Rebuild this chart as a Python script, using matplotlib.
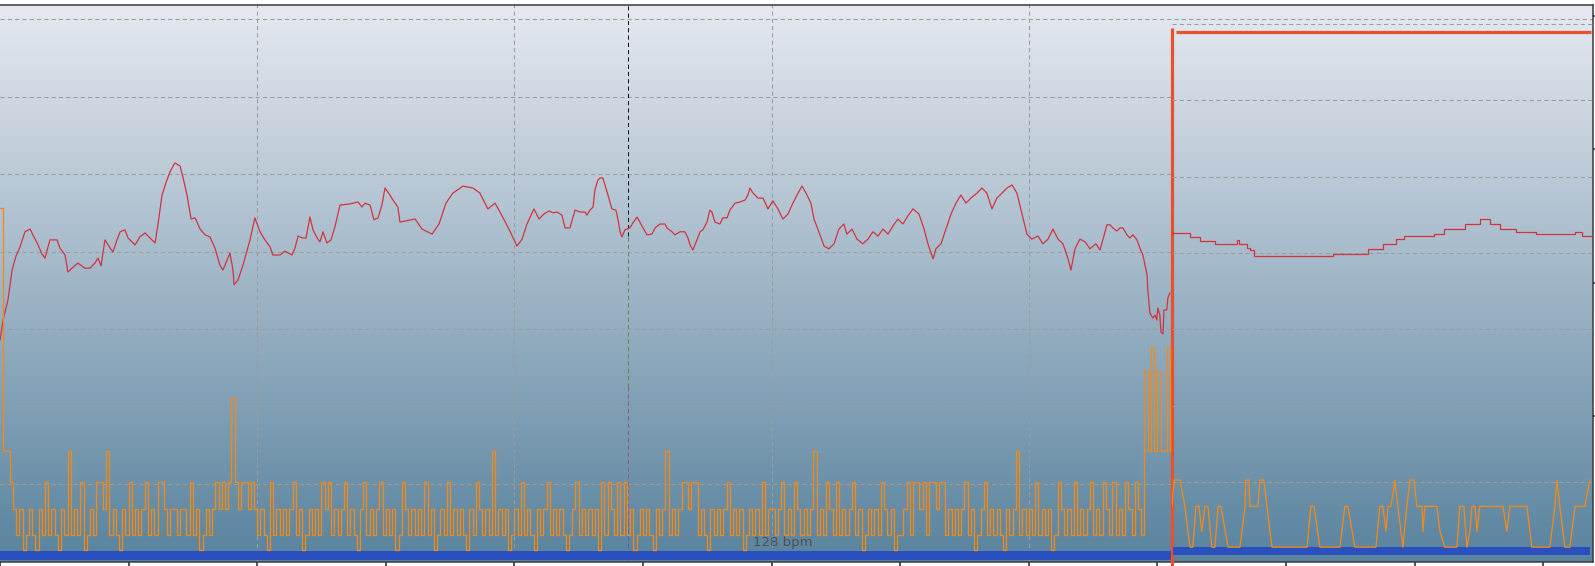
import matplotlib.pyplot as plt
import numpy as np

# heart rate before the split (minutes, bpm)
hr_t = [0.00, 0.12, 0.31, 0.47, 0.62, 0.78, 0.97, 1.17, 1.28, 1.48, 1.63, 1.75, 1.94, 2.22, 2.33, 2.53,
        2.64, 2.80, 3.03, 3.30, 3.50, 3.69, 3.81, 3.93, 4.08, 4.28, 4.39, 4.55, 4.67, 4.86, 4.98, 5.25,
        5.44, 5.64, 5.83, 6.03, 6.14, 6.30, 6.45, 6.61, 6.80, 7.00, 7.12, 7.27, 7.43, 7.58, 7.66, 7.78,
        7.97, 8.16, 8.36, 8.55, 8.67, 8.83, 8.94, 9.06, 9.10, 9.25, 9.45, 9.72, 9.91, 10.11, 10.30, 10.50,
        10.61, 10.89, 11.08, 11.35, 11.47, 11.59, 11.74, 11.90, 12.05, 12.17, 12.33, 12.44, 12.56, 12.71,
        12.87, 13.02, 13.22, 13.61, 13.92, 14.07, 14.19, 14.39, 14.54, 14.70, 14.85, 14.97, 15.16, 15.28,
        15.47, 15.55, 16.14, 16.41, 16.80, 17.07, 17.34, 17.61, 18.00, 18.39, 18.66, 18.97, 19.25, 19.48,
        19.79, 20.10, 20.30, 20.49, 20.76, 20.96, 21.15, 21.35, 21.50, 21.66, 21.85, 21.97, 22.16, 22.28,
        22.36, 22.55, 22.75, 22.82, 22.94, 23.06, 23.13, 23.25, 23.33, 23.44, 23.52, 23.64, 23.79, 23.95,
        24.03, 24.11, 24.18, 24.30, 24.49, 24.61, 24.77, 24.88, 25.00, 25.16, 25.35, 25.47, 25.66, 25.86,
        25.93, 26.13, 26.24, 26.44, 26.63, 26.75, 26.83, 26.94, 27.10, 27.22, 27.33, 27.49, 27.60, 27.68,
        27.80, 27.99, 28.11, 28.27, 28.38, 28.58, 28.77, 28.97, 29.08, 29.16, 29.28, 29.47, 29.67, 29.86,
        30.05, 30.25, 30.44, 30.64, 30.83, 31.03, 31.18, 31.34, 31.53, 31.65, 31.84, 32.04, 32.23, 32.43,
        32.62, 32.81, 32.93, 33.13, 33.32, 33.55, 33.75, 33.94, 34.14, 34.33, 34.53, 34.72, 34.91, 35.11,
        35.30, 35.50, 35.73, 35.93, 36.08, 36.28, 36.39, 36.59, 36.78, 36.98, 37.17, 37.36, 37.56, 37.75,
        37.99, 38.18, 38.37, 38.57, 38.76, 38.96, 39.15, 39.35, 39.54, 39.74, 39.93, 40.12, 40.36, 40.55,
        40.75, 40.94, 41.14, 41.33, 41.53, 41.64, 41.80, 41.99, 42.19, 42.38, 42.61, 42.77, 42.88, 43.04,
        43.16, 43.27, 43.43, 43.55, 43.66, 43.82, 43.93, 44.05, 44.21, 44.32, 44.44, 44.60, 44.63, 44.71,
        44.83, 44.91, 44.98, 45.02, 45.10, 45.14, 45.22, 45.26, 45.37, 45.41, 45.49]
hr_bpm = [97.1, 102.3, 107.5, 115.2, 118.8, 121.2, 125.1, 125.8, 124.3, 121.7, 119.4, 118.3, 123.0, 123.0,
          120.9, 119.1, 114.7, 115.7, 117.0, 115.7, 115.7, 117.0, 118.3, 116.3, 123.0, 120.9, 119.9, 123.0,
          125.1, 125.6, 123.5, 121.7, 123.8, 124.8, 123.5, 122.2, 126.9, 134.6, 137.7, 140.6, 142.9, 142.1,
          139.0, 134.6, 128.4, 128.7, 127.6, 125.8, 124.3, 123.8, 120.9, 116.5, 115.2, 117.8, 119.6, 115.2,
          111.4, 112.6, 116.5, 123.0, 128.7, 125.1, 123.0, 121.2, 119.1, 119.1, 120.1, 119.1, 120.9, 124.0,
          123.5, 123.5, 128.9, 125.6, 123.5, 122.5, 125.1, 122.2, 123.0, 126.3, 132.0, 132.3, 132.8, 131.5,
          132.5, 132.0, 128.2, 128.7, 132.0, 136.4, 134.6, 133.3, 131.5, 127.6, 128.4, 125.8, 124.5, 127.1,
          132.5, 135.1, 136.9, 136.4, 135.1, 131.0, 132.5, 129.7, 125.8, 121.4, 123.2, 127.1, 131.0, 128.4,
          129.7, 130.5, 130.0, 130.2, 129.4, 126.1, 126.1, 128.9, 130.7, 130.2, 130.2, 129.4, 130.7, 131.5,
          135.9, 138.5, 139.0, 139.0, 137.2, 134.6, 131.0, 130.7, 128.2, 125.1, 123.8, 125.6, 126.1, 127.4,
          128.9, 127.6, 126.1, 124.3, 124.5, 126.1, 127.1, 127.1, 126.1, 125.1, 124.3, 125.1, 125.1, 123.5,
          121.7, 120.4, 123.0, 125.1, 125.6, 127.6, 130.7, 130.2, 127.6, 127.1, 128.7, 128.7, 130.7, 132.5,
          132.8, 133.3, 134.6, 136.4, 135.1, 133.8, 133.8, 131.0, 133.1, 131.0, 128.4, 129.7, 132.5, 135.1,
          136.9, 135.1, 132.5, 128.4, 125.1, 121.4, 120.7, 122.0, 125.8, 127.1, 124.5, 125.8, 123.2, 122.0,
          123.2, 125.1, 124.0, 125.8, 124.5, 126.6, 128.4, 127.1, 129.2, 131.0, 129.7, 125.8, 122.0, 118.1,
          120.7, 122.0, 125.8, 129.7, 132.5, 134.6, 132.5, 133.8, 135.1, 136.4, 135.1, 131.0, 133.8, 135.1,
          136.4, 137.2, 135.1, 129.7, 124.5, 123.2, 124.0, 122.0, 123.2, 125.8, 123.2, 122.0, 118.1, 115.2,
          120.7, 123.2, 122.5, 120.7, 122.0, 120.4, 123.0, 126.9, 126.9, 126.1, 125.3, 126.1, 126.1, 124.3,
          123.5, 124.3, 123.0, 120.9, 119.1, 113.9, 110.1, 104.1, 102.8, 103.6, 102.3, 105.4, 103.6, 99.2,
          98.7, 104.9, 104.9, 108.0, 109.3]

# heart rate after the split (step values)
hr2_t = [45.57, 46.27, 46.66, 47.24, 48.09, 48.17, 48.48, 48.60, 48.75, 51.83, 53.19, 53.77, 54.28,
         54.59, 55.75, 56.14, 56.96, 57.54, 57.93, 58.32, 58.94, 59.72, 61.24, 61.51, 61.94]
hr2_bpm = [125.2, 124.2, 123.1, 122.3, 123.4, 122.3, 121.3, 120.8, 119.2, 119.7, 121.0, 122.3, 123.6,
           124.4, 125.0, 126.3, 127.6, 128.9, 127.6, 126.3, 125.5, 125.0, 125.5, 124.4, 124.4]

# second series, one code every 0.125 min before the split
var_levels = [0, 0.55, 1.55, 2.55, 3.7, 5.7, 6.7, 7.6, 12.8]
var_codes = [8, 4, 4, 3, 2, 1, 2, 0, 1, 2, 1, 0, 2, 1, 3, 1, 2, 1, 0, 2, 1, 4, 1, 2, 1, 3, 0, 1, 2, 1, 3, 3, 2, 4, 1, 2, 1, 0, 2, 1,
             3, 1, 2, 1, 2, 3, 1, 2, 1, 3, 3, 2, 1, 2, 2, 1, 2, 2, 1, 3, 1, 2, 0, 1, 2, 1, 2, 3, 2, 3, 2, 3, 5, 3, 2, 3, 3, 2, 3, 2,
             1, 2, 1, 0, 3, 1, 2, 1, 2, 1, 2, 3, 1, 2, 0, 1, 2, 1, 2, 1, 3, 2, 3, 1, 2, 1, 2, 3, 1, 2, 1, 0, 2, 3, 1, 2, 1, 2, 3, 1,
             2, 1, 2, 0, 1, 3, 2, 1, 2, 1, 2, 1, 3, 1, 2, 0, 1, 2, 1, 3, 1, 2, 1, 2, 1, 0, 2, 1, 3, 2, 1, 2, 1, 4, 1, 2, 1, 2, 0, 1,
             2, 1, 3, 1, 2, 1, 0, 2, 1, 2, 3, 1, 2, 1, 2, 1, 0, 1, 2, 3, 1, 2, 1, 2, 1, 2, 0, 3, 1, 3, 2, 1, 3, 1, 3, 1, 2, 0, 1, 2,
             1, 2, 1, 0, 2, 1, 2, 4, 1, 2, 1, 2, 3, 3, 2, 3, 3, 1, 2, 1, 0, 2, 1, 2, 1, 2, 3, 1, 2, 1, 2, 0, 1, 2, 1, 2, 1, 3, 1, 2,
             2, 1, 2, 3, 1, 2, 1, 3, 2, 1, 2, 1, 2, 4, 1, 2, 1, 3, 2, 1, 3, 1, 2, 1, 2, 3, 1, 2, 0, 1, 2, 1, 2, 1, 3, 2, 1, 2, 0, 1,
             1, 2, 3, 1, 3, 3, 2, 3, 1, 3, 3, 2, 3, 3, 1, 2, 1, 2, 1, 2, 3, 1, 2, 0, 1, 2, 3, 1, 2, 1, 2, 1, 0, 2, 1, 2, 4, 1, 2, 1,
             2, 1, 3, 1, 2, 1, 2, 0, 1, 3, 2, 1, 2, 1, 3, 1, 2, 1, 2, 3, 1, 2, 1, 3, 2, 1, 3, 1, 2, 1, 3, 2, 1, 3, 2, 1, 6, 4, 7, 4,
             6, 4, 4, 7, 4]
var_dt = 0.125

# second series after the split
var2_t = [45.57, 45.65, 45.88, 46.07, 46.27, 46.38, 46.50, 46.62, 46.73, 46.85, 46.97, 47.12, 47.24, 47.36,
          47.47, 47.75, 48.21, 48.41, 48.44, 48.56, 48.60, 48.91, 48.99, 49.14, 49.38, 49.46, 50.82, 50.97,
          51.09, 51.32, 52.10, 52.29, 52.41, 52.68, 53.50, 53.65, 53.77, 53.89, 53.97, 54.08, 54.24, 54.35,
          54.55, 54.70, 54.82, 54.98, 55.09, 55.29, 55.33, 55.40, 55.87, 55.99, 56.18, 56.65, 56.76, 56.92,
          57.04, 57.15, 57.23, 57.35, 57.43, 57.54, 57.74, 58.44, 58.59, 58.71, 59.37, 59.56, 60.26, 60.46,
          60.54, 60.65, 60.85, 61.04, 61.24, 61.62, 61.82]
var2_val = [1.55, 2.55, 2.55, 1.55, 0, 0, 1.55, 1.55, 0.6, 1.55, 1.55, 0, 0, 1.55, 1.55, 0, 0, 1.55, 2.55, 2.55,
            1.55, 1.55, 2.55, 2.55, 0.6, 0, 0, 1.55, 1.55, 0, 0, 1.55, 1.55, 0, 0, 1.55, 1.55, 0.6, 1.55, 1.55,
            2.55, 1.55, 0, 1.55, 2.55, 2.55, 1.55, 1.55, 0.6, 1.55, 1.55, 0.6, 0, 0, 1.55, 1.55, 0, 0.6, 1.55, 1.55,
            0.6, 1.55, 1.55, 1.55, 0.6, 1.55, 1.55, 0, 0, 1.55, 2.55, 1.55, 0, 0, 1.55, 1.55, 2.55]
var_ticks = [5, 10, 15, 20]

split_t = 45.57
end_t = 61.94
max_hr = 176.6
avg_label = "128 bpm"
grid_bpm = [60, 80, 100, 120, 140, 160]
band = (40.3, 42.6)

W, H = 1595, 566
fig = plt.figure(figsize=(W / 100, H / 100), dpi=100)
fig.patch.set_facecolor("white")

bpm_lim = (39.77, 183.7)
var_lim = (-0.45, 20.41)

ax = fig.add_axes([0, 1 - 562 / H, 1593 / W, 557 / H])
ax.set_xlim(0, end_t)
ax.set_ylim(*bpm_lim)

# background gradient
grad = np.linspace(0, 1, 256)[:, None]
top = np.array([230, 233, 240]) / 255
bot = np.array([89, 131, 158]) / 255
img = top[None, None, :] * (1 - grad[..., None]) + bot[None, None, :] * grad[..., None]
ax.imshow(img, extent=(0, 1, 0, 1), transform=ax.transAxes, aspect="auto", zorder=0)

dash = (0, (4, 3))
gcol = "#9c9c9c"
ax.hlines(grid_bpm, 0, split_t, colors=gcol, linestyles=dash, lw=0.75, zorder=1)
ax.hlines([180], 0, end_t, colors=gcol, linestyles=dash, lw=0.75, zorder=1)
ax.vlines([10, 20, 30, 40], bpm_lim[0], bpm_lim[1], colors=gcol, linestyles=dash, lw=0.75, zorder=1)

# cursor
ax.vlines(24.40, 124, bpm_lim[1], colors="#1a1a1a", linestyles=dash, lw=0.75, zorder=2)
ax.vlines(24.40, 85, 124, colors="#4f8f4f", linestyles=dash, lw=0.75, zorder=2)
ax.vlines(24.40, 50, 85, colors="#9a4f8a", linestyles=dash, lw=0.75, zorder=2)
ax.vlines(24.40, bpm_lim[0], 50, colors="#4a62c8", linestyles=dash, lw=0.75, zorder=2)

ax.fill_between([0, split_t], band[0], band[1], color="#2a4fbf", lw=0, zorder=2)
ax.plot(hr_t, hr_bpm, color="#d2343f", lw=0.9, zorder=5)
ax.text(30.44, 44.9, avg_label, ha="center", va="center", fontsize=9.5, color="#505050", zorder=6)

ax.set_xticks(np.arange(0, end_t, 5))
ax.set_xticklabels([])
ax.set_yticks([])
ax.tick_params(axis="x", direction="out", length=3, width=1.2, color="#333333")
ax.spines["left"].set_visible(False)
for s in ["top", "right", "bottom"]:
    ax.spines[s].set_color("#3a3a3a")
    ax.spines[s].set_linewidth(1.1)

axv = ax.twinx()
axv.set_ylim(*var_lim)
for s in axv.spines.values():
    s.set_visible(False)
axv.set_yticks(var_ticks)
axv.set_yticklabels([])
axv.tick_params(axis="y", direction="out", length=3, width=1.1, color="#333333")
var_t = np.arange(len(var_codes)) * var_dt
var_val = [var_levels[c] for c in var_codes]
axv.plot(var_t, var_val, drawstyle="steps-post", color="#f08a1a", lw=0.95, zorder=4)

# right part
axr = fig.add_axes([1172 / W, 1 - 559 / H, (1593 - 1172) / W, 549 / H])
axr.patch.set_alpha(0)
axr.set_xlim(split_t, end_t)
axr.set_ylim(*bpm_lim)
axr.axis("off")
axr.hlines(grid_bpm + [180], split_t, end_t, colors=gcol, linestyles=dash, lw=0.75, zorder=1)
axr.fill_between([split_t + 0.05, end_t - 0.1], band[0] + 0.5, band[1] + 0.4, color="#2a4fbf", lw=0, zorder=2)
axr.plot(hr2_t, hr2_bpm, drawstyle="steps-post", color="#d2343f", lw=0.9, zorder=5)
axrv = axr.twinx()
axrv.set_ylim(*var_lim)
axrv.axis("off")
axrv.plot(var2_t, var2_val, color="#f08a1a", lw=0.95, zorder=4)

# split and max markers
ax.vlines(split_t, bpm_lim[0] - 1.2, 177.7, colors="#e8512e", lw=2.3, zorder=7, clip_on=False)
ax.hlines(max_hr, split_t + 0.15, end_t - 0.08, colors="#e8512e", lw=2.3, zorder=7)

fig.savefig("out.png", dpi=100)
